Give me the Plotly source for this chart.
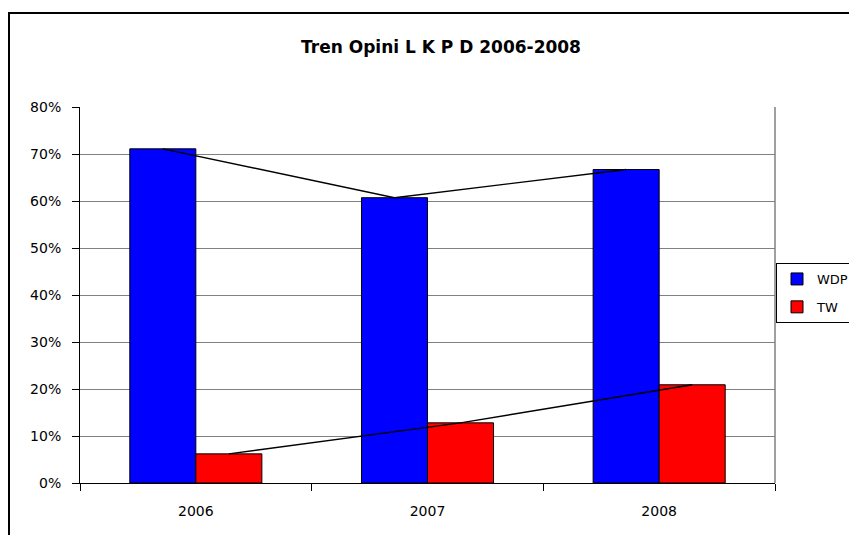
import plotly.graph_objects as go

years = ["2006", "2007", "2008"]
wdp = [0.711, 0.607, 0.667]
tw = [0.062, 0.128, 0.209]
title_text = "Tren Opini L K P D 2006-2008"

OFF = 8  # page body margin
W, H = 857 - OFF, 535 - OFF
L, R, T, B = 80 - OFF, 0, 107 - OFF, 535 - 483
PLOT_RIGHT = 775 - OFF
pw_full = W - L - R
ph = H - T - B
dom_right = (PLOT_RIGHT - L) / pw_full
FONT = "DejaVu Sans"

fig = go.Figure()
fig.add_trace(go.Bar(name="WDP", x=years, y=wdp, marker=dict(color="#0000FF", line=dict(color="black", width=1)),
                     offsetgroup="WDP", legendgroup="g1"))
fig.add_trace(go.Bar(name="TW", x=years, y=tw, marker=dict(color="#FF0000", line=dict(color="black", width=1)),
                     offsetgroup="TW", legendgroup="g2"))
fig.add_trace(go.Scatter(x=years, y=wdp, mode="lines", line=dict(color="black", width=1.4),
                         offsetgroup="WDP", showlegend=False, hoverinfo="skip"))
fig.add_trace(go.Scatter(x=years, y=tw, mode="lines", line=dict(color="black", width=1.4),
                         offsetgroup="TW", showlegend=False, hoverinfo="skip"))

def px_x(x):
    return (x - OFF - L) / pw_full

def px_y(y):
    return (H - B - (y - OFF)) / ph

fig.update_layout(
    width=W, height=H,
    margin=dict(l=L, r=R, t=T, b=B, autoexpand=False),
    paper_bgcolor="white", plot_bgcolor="white",
    barmode="group", bargap=0.43, bargroupgap=0,
    scattermode="group", scattergap=0.43,
    font=dict(family=FONT, size=14, color="black"),
    title=dict(text="<b>" + title_text + "</b>", x=(441 - OFF) / W, xanchor="center",
               y=1 - (47 - OFF) / H, yanchor="middle", font=dict(size=17, family=FONT)),
    legend=dict(x=px_x(776), y=px_y(263), xanchor="left", yanchor="top",
                bordercolor="black", borderwidth=1, bgcolor="white",
                font=dict(size=13, family=FONT), itemwidth=30,
                traceorder="grouped", tracegroupgap=8),
    showlegend=True,
    xaxis=dict(domain=[0, dom_right], showline=True, linecolor="black", linewidth=1, ticks="outside",
               tickson="boundaries", ticklen=7, tickcolor="black", showgrid=False,
               tickfont=dict(size=14), ticklabelstandoff=15),
    yaxis=dict(range=[0, 0.8], dtick=0.1, tickformat=".0%", showline=True, linecolor="black",
               linewidth=1, ticks="outside", ticklen=7, tickcolor="black",
               showgrid=True, gridcolor="#808080", gridwidth=1, zeroline=False,
               tickfont=dict(size=14), ticklabelstandoff=8),
    shapes=[
        dict(type="line", xref="x domain", yref="paper", x0=1, x1=1, y0=0, y1=1,
             line=dict(color="#808080", width=1.5)),
        dict(type="rect", xref="paper", yref="paper", x0=px_x(9), x1=px_x(857 + 20),
             y0=px_y(535 + 20), y1=px_y(13), line=dict(color="black", width=2)),
    ],
)

fig.write_html("out.html")
